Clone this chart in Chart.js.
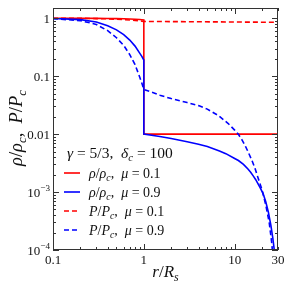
<!DOCTYPE html>
<html>
<head>
<meta charset="utf-8">
<script src="https://cdn.jsdelivr.net/npm/chart.js@4"></script>
<style>
  body { margin: 0; background: #fff; }
  canvas { display: block; }
</style>
</head>
<body>
<canvas id="chart" width="293" height="282"></canvas>
<script>
// values (r in units of R_s)
const rInner = [0.1, 0.2, 0.3, 0.4, 0.5, 0.6, 0.7, 0.8, 0.9, 0.95, 1];
const rho01Inner = [1.0, 0.998, 0.995, 0.99, 0.985, 0.98, 0.97, 0.96, 0.95, 0.94, 0.93];
const p01Inner = [1.0, 0.995, 0.985, 0.975, 0.96, 0.945, 0.93, 0.915, 0.9, 0.89, 0.88];
const rho09Inner = [0.99, 0.945, 0.86, 0.74, 0.63, 0.52, 0.42, 0.33, 0.25, 0.22, 0.19];
const p09Inner = [0.98, 0.91, 0.78, 0.61, 0.46, 0.34, 0.235, 0.158, 0.097, 0.076, 0.059];

const rOuterRed = [1, 30];
const rho01Outer = [0.01, 0.01];
const p01Outer = [0.88, 0.85];

const rRho09Outer = [1, 1.5, 2, 3, 4, 5, 6.8, 8, 10, 11, 12.5, 14, 15, 16, 17, 19, 20.5, 22, 23.5, 25, 26.3, 27.3, 28];
const rho09Outer = [0.01, 0.0091, 0.0084, 0.0074, 0.0067, 0.0061, 0.0051, 0.0046, 0.0038, 0.0035, 0.003, 0.0025, 0.0022, 0.0019, 0.00165, 0.0012, 0.00095, 0.00068, 0.00045, 0.00027, 0.00016, 0.0001, 0.00006];
const rP09Outer = [1, 1.5, 2, 3, 4, 5, 6.6, 8.5, 10, 11, 12, 13, 14, 15.4, 16.7, 18, 20, 22, 24, 25.5, 26, 26.6];
const p09Outer = [0.059, 0.047, 0.041, 0.035, 0.031, 0.027, 0.021, 0.0152, 0.0117, 0.0099, 0.008, 0.0064, 0.005, 0.0036, 0.0026, 0.0018, 0.0011, 0.0006, 0.0003, 0.00014, 0.0001, 0.00006];

const xTickLabels = [0.1, 1, 10, 30];
const yTickLabels = [1, 0.1, 0.01, 1e-3, 1e-4];

const FONT = '"Liberation Serif", "DejaVu Serif", serif';
const RED = '#ff0000', BLUE = '#0000ff';

function pts(xs, ys) { return xs.map((x, i) => ({ x: x, y: ys[i] })); }

// draw text made of runs: {t, i (italic), sub, sup}
function runWidth(ctx, runs, size) {
  let w = 0;
  runs.forEach(r => {
    const s = (r.sub || r.sup) ? size * 0.7 : size;
    ctx.font = (r.i ? 'italic ' : '') + s + 'px ' + FONT;
    w += ctx.measureText(r.t).width;
  });
  return w;
}
function drawRuns(ctx, runs, x, y, size, align) {
  const w = runWidth(ctx, runs, size);
  let cx = align === 'right' ? x - w : align === 'center' ? x - w / 2 : x;
  ctx.textAlign = 'left';
  ctx.textBaseline = 'alphabetic';
  runs.forEach(r => {
    const s = (r.sub || r.sup) ? size * 0.7 : size;
    ctx.font = (r.i ? 'italic ' : '') + s + 'px ' + FONT;
    const dy = r.sub ? size * 0.22 : r.sup ? -size * 0.42 : 0;
    ctx.fillText(r.t, cx, y + dy);
    cx += ctx.measureText(r.t).width;
  });
}

const legendItems = [
  { color: RED, dash: [], runs: [{t:'ρ', i:1}, {t:'/'}, {t:'ρ', i:1}, {t:'c', i:1, sub:1}, {t:',  '}, {t:'μ', i:1}, {t:' = 0.1'}] },
  { color: BLUE, dash: [], runs: [{t:'ρ', i:1}, {t:'/'}, {t:'ρ', i:1}, {t:'c', i:1, sub:1}, {t:',  '}, {t:'μ', i:1}, {t:' = 0.9'}] },
  { color: RED, dash: [5, 3], runs: [{t:'P', i:1}, {t:'/'}, {t:'P', i:1}, {t:'c', i:1, sub:1}, {t:',  '}, {t:'μ', i:1}, {t:' = 0.1'}] },
  { color: BLUE, dash: [5, 3], runs: [{t:'P', i:1}, {t:'/'}, {t:'P', i:1}, {t:'c', i:1, sub:1}, {t:',  '}, {t:'μ', i:1}, {t:' = 0.9'}] }
];

const decor = {
  id: 'decor',
  afterDatasetsDraw(chart) {
    const ctx = chart.ctx;
    const a = chart.chartArea;
    const xs = chart.scales.x, ys = chart.scales.y;
    ctx.save();
    ctx.strokeStyle = '#333';
    ctx.lineWidth = 1;
    ctx.setLineDash([]);
    // frame
    ctx.strokeRect(a.left + 0.5, a.top + 0.5, a.right - a.left - 1, a.bottom - a.top - 1);
    // ticks inward on all sides
    ctx.beginPath();
    for (let e = -1; e <= 1; e++) {
      for (let m = 1; m <= 9; m++) {
        const v = m * Math.pow(10, e);
        if (v < xs.min - 1e-9 || v > xs.max + 1e-9) continue;
        const px = Math.round(xs.getPixelForValue(v)) + 0.5;
        const len = m === 1 ? 6 : 3;
        ctx.moveTo(px, a.bottom); ctx.lineTo(px, a.bottom - len);
        ctx.moveTo(px, a.top); ctx.lineTo(px, a.top + len);
      }
    }
    for (let e = -4; e <= 0; e++) {
      for (let m = 1; m <= 9; m++) {
        const v = m * Math.pow(10, e);
        if (v < ys.min - 1e-12 || v > ys.max) continue;
        const py = Math.round(ys.getPixelForValue(v)) + 0.5;
        const len = m === 1 ? 6 : 3;
        ctx.moveTo(a.left, py); ctx.lineTo(a.left + len, py);
        ctx.moveTo(a.right, py); ctx.lineTo(a.right - len, py);
      }
    }
    ctx.stroke();

    ctx.fillStyle = '#111';
    // x tick labels
    xTickLabels.forEach(v => {
      drawRuns(ctx, [{t: String(v)}], xs.getPixelForValue(v), a.bottom + 14, 13, 'center');
    });
    // y tick labels
    yTickLabels.forEach(v => {
      const py = ys.getPixelForValue(v) + 4.5;
      let runs;
      if (v >= 0.01) runs = [{t: String(v)}];
      else runs = [{t: '10'}, {t: '−' + Math.round(-Math.log10(v)), sup: 1}];
      drawRuns(ctx, runs, a.left - 3, py, 13, 'right');
    });
    // axis titles
    drawRuns(ctx, [{t:'r', i:1}, {t:'/'}, {t:'R', i:1}, {t:'s', i:1, sub:1}], (a.left + a.right) / 2, 277, 17, 'center');
    ctx.save();
    ctx.translate(22, 128);
    ctx.rotate(-Math.PI / 2);
    drawRuns(ctx, [{t:'ρ', i:1}, {t:'/'}, {t:'ρ', i:1}, {t:'c', i:1, sub:1}, {t:',  '},
                   {t:'P', i:1}, {t:'/'}, {t:'P', i:1}, {t:'c', i:1, sub:1}], 0, 0, 18.5, 'center');
    ctx.restore();

    // legend
    drawRuns(ctx, [{t:'γ', i:1}, {t:' = 5/3,  '}, {t:'δ', i:1}, {t:'c', i:1, sub:1}, {t:' = 100'}], 67, 158, 15.5, 'left');
    legendItems.forEach((it, k) => {
      const y = 173 + k * 19;
      ctx.strokeStyle = it.color;
      ctx.lineWidth = 1.6;
      ctx.setLineDash(it.dash);
      ctx.beginPath();
      ctx.moveTo(64, y); ctx.lineTo(80, y);
      ctx.stroke();
      ctx.setLineDash([]);
      ctx.fillStyle = '#111';
      drawRuns(ctx, it.runs, 89, y + 5, 14, 'left');
    });
    ctx.restore();
  }
};

function series(data, color, dash, order) {
  return {
    data: data,
    borderColor: color,
    borderWidth: 1.6,
    borderDash: dash,
    pointRadius: 0,
    tension: 0,
    fill: false,
    order: order
  };
}

new Chart(document.getElementById('chart'), {
  type: 'line',
  data: {
    datasets: [
      series(pts(rInner.concat(rRho09Outer), rho09Inner.concat(rho09Outer)), BLUE, [], 0),
      series(pts(rInner.concat(rP09Outer), p09Inner.concat(p09Outer)), BLUE, [5, 3], 1),
      series(pts(rInner.concat(rOuterRed), rho01Inner.concat(rho01Outer)), RED, [], 2),
      series(pts(rInner.concat(rOuterRed), p01Inner.concat(p01Outer)), RED, [5, 3], 3)
    ]
  },
  options: {
    responsive: false,
    animation: false,
    layout: { padding: { left: 53, right: 15, top: 8, bottom: 32 } },
    plugins: { legend: { display: false }, tooltip: { enabled: false } },
    scales: {
      x: { type: 'logarithmic', min: 0.1, max: 30, display: false },
      y: { type: 'logarithmic', min: 1e-4, max: 1.5, display: false }
    }
  },
  plugins: [decor]
});
</script>
</body>
</html>
